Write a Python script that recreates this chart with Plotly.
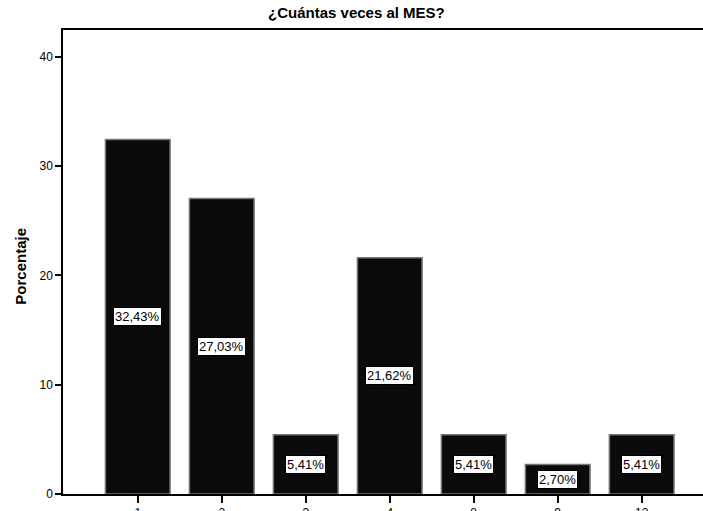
import plotly.graph_objects as go

categories = ["1", "2", "3", "4", "8", "9", "12"]
values = [32.43, 27.03, 5.41, 21.62, 5.41, 2.70, 5.41]
labels = [f"{v:.2f}".replace(".", ",") + "%" for v in values]
y_ticks = [0, 10, 20, 30, 40]

fig = go.Figure()
fig.add_trace(go.Bar(
    x=categories, y=values,
    marker=dict(color="#0a0a0a", line=dict(color="#777777", width=1.5)),
    width=0.77,
    hoverinfo="skip",
))

for i, (v, t) in enumerate(zip(values, labels)):
    fig.add_annotation(
        x=i, y=v / 2, text=t, showarrow=False,
        font=dict(family="Liberation Sans, Arial", size=13, color="black"),
        bgcolor="white", bordercolor="black", borderwidth=1, borderpad=1,
    )

fig.add_annotation(
    x=0, xref="paper", y=0.49, yref="paper", xshift=-42,
    text="<b>Porcentaje</b>", textangle=-90, showarrow=False,
    xanchor="center", yanchor="middle",
    font=dict(size=15, family="Liberation Sans, Arial", color="black"),
)

fig.update_layout(
    width=703, height=511,
    margin=dict(l=63, r=0, t=30, b=17, autoexpand=False),
    paper_bgcolor="white", plot_bgcolor="white",
    showlegend=False,
    font=dict(family="Liberation Sans, Arial", color="black"),
    title=dict(text="<b>¿Cuántas veces al MES?</b>", x=0.507, xanchor="center",
               y=0.975, yanchor="middle",
               font=dict(size=15, family="Liberation Sans, Arial", color="black")),
    xaxis=dict(
        type="category", range=[-0.89, 6.73], automargin=False,
        showline=True, linecolor="black", linewidth=1.5, mirror=True,
        ticks="outside", ticklen=7, tickcolor="black", tickwidth=1.5,
        tickfont=dict(size=12, family="Liberation Sans, Arial", color="black"),
        showgrid=False, zeroline=False, fixedrange=True,
    ),
    yaxis=dict(
        range=[0, 42.45], tickvals=y_ticks, automargin=False,
        showline=True, linecolor="black", linewidth=1.5,
        ticks="outside", ticklen=6, tickcolor="black", tickwidth=1.5,
        tickfont=dict(size=12, family="Liberation Sans, Arial", color="black"),
        showgrid=False, zeroline=False, fixedrange=True,
    ),
)

fig.write_html("out.html", config={"displayModeBar": False},
               post_script="document.body.style.margin='0';")
